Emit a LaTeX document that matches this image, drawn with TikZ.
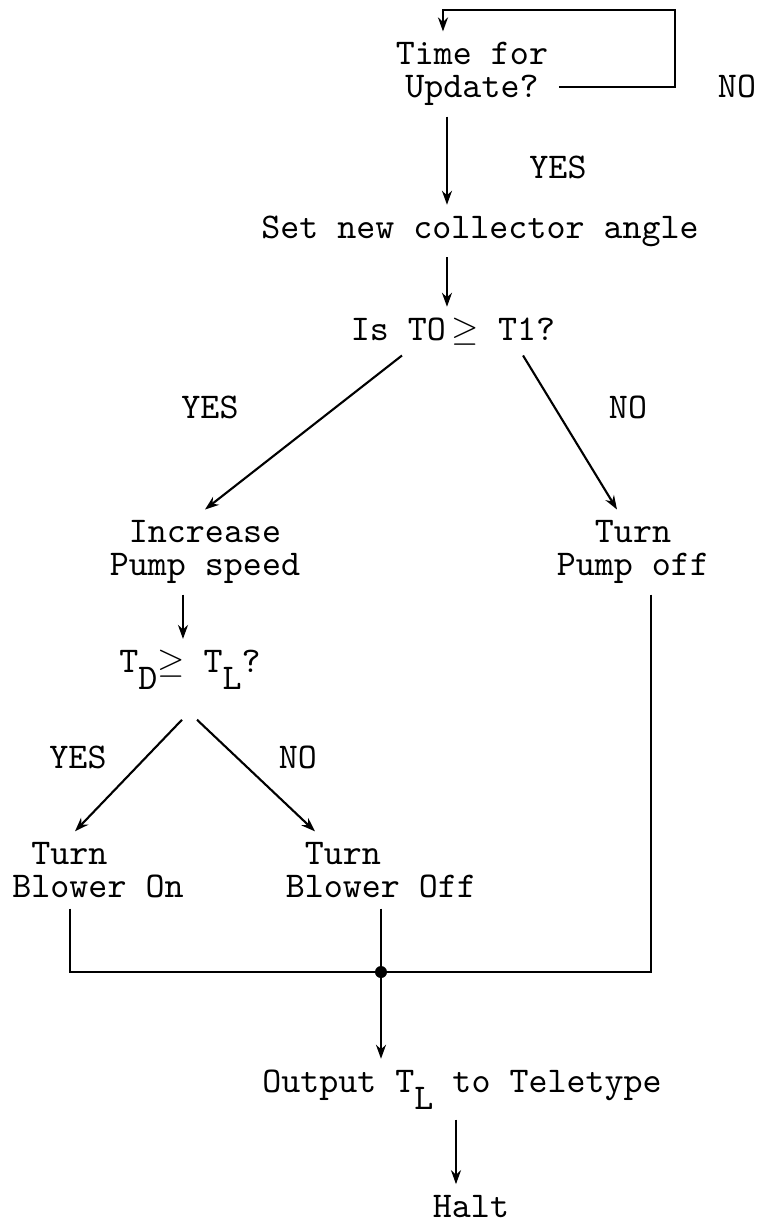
\documentclass[tikz,border=0pt]{standalone}
\usepackage{tikz}
\usetikzlibrary{arrows.meta, positioning, calc}
\newcommand{\lowsub}[1]{\raisebox{-0.17cm}{#1}}
\tikzset{
  flowtext/.style={
    font=\fontsize{10.3}{9.5}\selectfont\ttfamily,
    inner xsep=0.1cm, inner ysep=0.1cm, align=center
  },
  choice/.style={
    font=\fontsize{10.3}{9.5}\selectfont\ttfamily,
    inner sep=0pt, anchor=base
  },
  arrow/.style={line width=0.6pt, -{Stealth[length=0.14cm, width=0.1cm]}},
  link/.style={line width=0.6pt},
}

\begin{document}
\begin{tikzpicture}[x=0.01cm, y=-0.01cm]
  \useasboundingbox (0,0) rectangle (762,1223);

  \node (upd)  [flowtext]              at (472,74)   {Time for\\Update?};
  \node (set)  [flowtext, anchor=base] at (480,238)  {Set new collector angle};
  \node (is)   [flowtext, anchor=base] at (453,340)  {Is TO$\,\geq$ T1?};
  \node (inc)  [flowtext]              at (205,552)  {Increase\\Pump speed};
  \node (off)  [flowtext]              at (633,552)  {Turn\\Pump off};
  \node (td)   [flowtext, anchor=base] at (190,672)  {T\lowsub{D}$\geq$ T\lowsub{L}?};
  \node (on)   [flowtext, align=left]  at (98,870)   {~Turn\\Blower On};
  \node (boff) [flowtext, align=left]  at (381,870)  {~Turn\\Blower Off};
  \node (out)  [flowtext, anchor=base] at (462,1092) {Output T\lowsub{L} to Teletype};
  \node (halt) [flowtext, anchor=base] at (471,1217) {Halt};

  \node (no1)  [choice] at (737,97)  {NO};
  \node (yes1) [choice] at (558,178) {YES};
  \node (yes2) [choice] at (210,418) {YES};
  \node (no2)  [choice] at (628,418) {NO};
  \node (yes3) [choice] at (78,768)  {YES};
  \node (no3)  [choice] at (298,768) {NO};

  \coordinate (loopc) at (675,10);
  \coordinate (jn)    at (boff.south |- 0,972);

  \draw [arrow] ([yshift=-0.13cm]upd.east) -| (loopc) -| ([xshift=-0.29cm]upd.north);
  \draw [arrow] ([xshift=-0.25cm]upd.south) -- ([xshift=-0.25cm]upd.south |- set.north);
  \draw [arrow] ([xshift=-0.33cm]set.south) -- ([xshift=-0.33cm]set.south |- is.north);
  \draw [arrow] ([xshift=-0.51cm]is.south) -- (inc.north);
  \draw [arrow] ([xshift=0.7cm]is.south)   -- ([xshift=-0.16cm]off.north);
  \draw [arrow] ([xshift=-0.22cm]inc.south) -- ([xshift=-0.22cm]inc.south |- td.north);
  \draw [arrow] ([xshift=-0.08cm, yshift=-0.2cm]td.south) -- ([xshift=-0.23cm]on.north);
  \draw [arrow] ([xshift=0.07cm, yshift=-0.2cm]td.south)  -- ([xshift=-0.66cm]boff.north);

  \draw [link] ([xshift=-0.28cm]on.south) |- (jn);
  \draw [link] ([xshift=0.18cm]off.south) |- (jn);
  \draw [link] (boff.south) -- (jn);
  \fill (jn) circle (0.06cm);
  \draw [arrow] (jn) -- (jn |- out.north);
  \draw [arrow] ([xshift=-0.06cm]out.south) -- ([xshift=-0.06cm]out.south |- halt.north);
\end{tikzpicture}
\end{document}
